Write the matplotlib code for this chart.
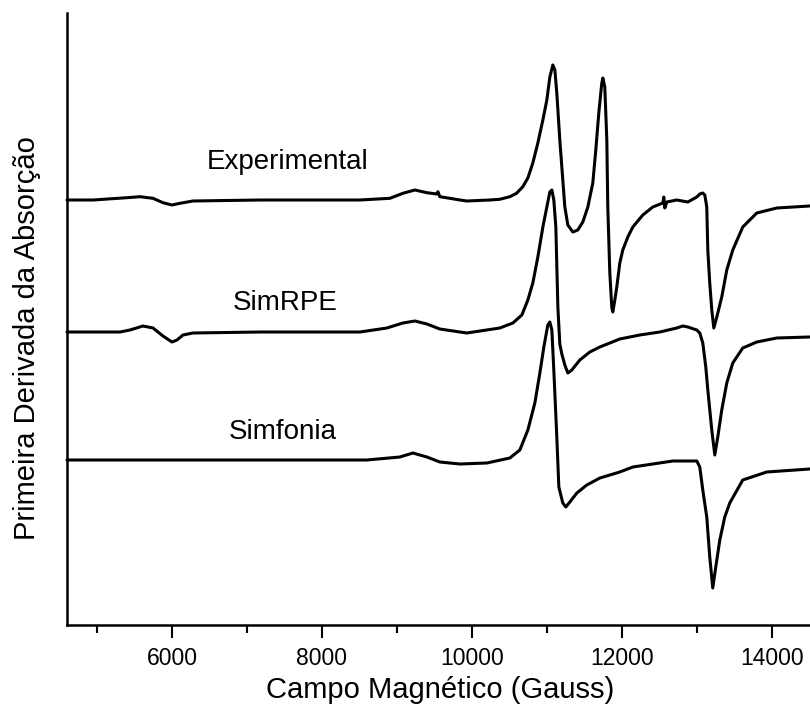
import numpy as np
import matplotlib
matplotlib.use("Agg")
import matplotlib.pyplot as plt
from matplotlib.ticker import MultipleLocator, FixedLocator

plt.rcParams['font.family'] = ['Liberation Sans', 'DejaVu Sans']

# ── data (field in Gauss, signal in arbitrary units) ──────────────────────────
exp_field = [4600, 4947, 5400, 5573, 5747, 5880, 6000, 6107, 6280, 7173, 8507,
             8907, 9080, 9240, 9400, 9533, 9547, 9573, 9707, 9840, 9933,
             10240, 10373, 10507, 10596, 10680, 10747, 10813, 10880, 10947,
             11000, 11040, 11080, 11107, 11133, 11173, 11213, 11240, 11280,
             11347, 11413, 11480, 11547, 11613, 11653, 11693, 11733, 11747,
             11773, 11800, 11813, 11840, 11867, 11880, 11907, 11933, 11973,
             12013, 12080, 12147, 12280, 12413, 12547, 12560, 12573, 12600,
             12733, 12880, 13000, 13040, 13080, 13107, 13133, 13147, 13173,
             13200, 13227, 13267, 13333, 13400, 13480, 13613, 13800, 14067,
             14507]
exp_signal = [0, 0, 2.3, 3.3, 1.7, -2.7, -5, -3.3, -1, 0, 0,
              1.7, 6.7, 10, 7.3, 6, 8.3, 3.3, 1.7, 0, -1,
              0, 0.7, 3.3, 6.7, 13.3, 22, 37, 57, 80,
              100, 123, 135, 130, 107, 60, 20, -7, -25,
              -32, -30, -22, -7, 17, 50, 87, 117, 122,
              113, 60, -7, -73, -108, -112, -100, -87, -63,
              -50, -37, -27, -15, -7, -3, 3, -8, -2,
              0, -2, 3, 6, 7, 5, -7, -50, -83,
              -110, -128, -117, -97, -70, -50, -27, -13, -8,
              -6]

rpe_field = [4600, 5307, 5440, 5613, 5747, 5880, 6000, 6067, 6147, 6280, 7173,
             8507, 8867, 9080, 9240, 9400, 9573, 9840, 9933, 10373, 10547,
             10667, 10747, 10813, 10880, 10947, 11000, 11040, 11067, 11093,
             11120, 11147, 11173, 11200, 11240, 11280, 11333, 11440, 11573,
             11707, 11973, 12240, 12507, 12733, 12813, 12880, 13000, 13040,
             13080, 13120, 13147, 13200, 13240, 13280, 13333, 13400, 13480,
             13613, 13800, 14067, 14507]
rpe_signal = [0, 0, 2, 6, 4, -4, -10, -8, -3, -1, 0,
              0, 4, 9, 11, 8, 3, 0, -1, 4, 9,
              17, 32, 49, 75, 105, 125, 140, 142, 132,
              105, 25, -12, -22, -33, -41, -38, -28, -20,
              -15, -7, -3, 0, 4, 6, 5, 2, -1,
              -11, -35, -58, -98, -123, -105, -78, -51, -31,
              -16, -10, -6, -5]

sim_field = [4600, 8600, 9040, 9213, 9400, 9573, 9840, 10200, 10507, 10640,
             10747, 10840, 10907, 10960, 11013, 11040, 11067, 11093, 11133,
             11160, 11213, 11253, 11307, 11400, 11533, 11707, 11973, 12147,
             12680, 13000, 13040, 13080, 13133, 13173, 13213, 13253, 13307,
             13373, 13440, 13613, 13933, 14507]
sim_signal = [0, 0, 3, 7, 3, -2, -4, -3, 2, 10,
              30, 57, 87, 113, 135, 138, 130, 90, 23,
              -27, -43, -47, -42, -33, -25, -18, -12, -7,
              -1, -1, -7, -30, -57, -97, -128, -107, -80,
              -57, -43, -20, -12, -9]

labels = ['Experimental', 'SimRPE', 'Simfonia']
offsets = [0, -132, -260]
label_field = [7547, 7507, 7480]
label_height = [38, -103, -232]

# ── figure ────────────────────────────────────────────────────────────────────
W, H = 810, 717
fig = plt.figure(figsize=(W / 100, H / 100), dpi=100)
ax = fig.add_axes([67 / W, (H - 625) / H, 1 - 67 / W, (625 - 13) / H])

traces = [(exp_field, exp_signal), (rpe_field, rpe_signal), (sim_field, sim_signal)]
for (f, s), off in zip(traces, offsets):
    ax.plot(f, np.array(s) + off, color='black', linewidth=2.2,
            solid_joinstyle='round', solid_capstyle='round', clip_on=False)

# trace labels
for lab, fx, fy in zip(labels, label_field, label_height):
    ax.text(fx, fy, lab, fontsize=20, ha='center', va='center')

ax.set_xlim(4600, 14510)
ax.set_ylim(-425, 187)

for side in ['top', 'right']:
    ax.spines[side].set_visible(False)
for side in ['left', 'bottom']:
    ax.spines[side].set_linewidth(1.8)

ax.set_yticks([])
ax.xaxis.set_major_locator(MultipleLocator(2000))
ax.xaxis.set_minor_locator(FixedLocator([5000, 7000, 9000, 11000, 13000]))
ax.tick_params(axis='x', which='major', direction='out', length=9.5, width=1.5,
               labelsize=16.5, pad=6)
ax.tick_params(axis='x', which='minor', direction='out', length=5.5, width=1.5)

fig.text(440 / W, 1 - 690 / H, 'Campo Magnético (Gauss)', fontsize=21,
         ha='center', va='center')
fig.text(27 / W, 1 - 338 / H, 'Primeira Derivada da Absorção', fontsize=21,
         ha='center', va='center', rotation=90)

fig.savefig('out.png', dpi=100)
